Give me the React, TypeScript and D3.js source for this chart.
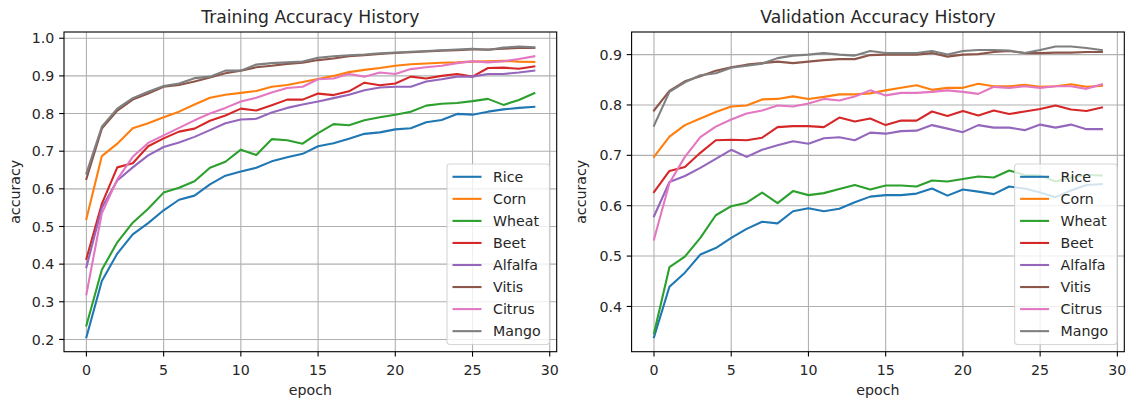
import React from "react";
import * as d3 from "d3";

// Crop classes, in legend order
const crops = ["Rice", "Corn", "Wheat", "Beet", "Alfalfa", "Vitis", "Citrus", "Mango"];
const colors = ["#1f77b4", "#ff7f0e", "#2ca02c", "#d62728", "#9467bd", "#8c564b", "#e377c2", "#7f7f7f"];

// Training accuracy per epoch (0..29)
const trainRice = [0.206, 0.355, 0.428, 0.479, 0.509, 0.543, 0.571, 0.582, 0.612, 0.635, 0.646, 0.656, 0.673, 0.684, 0.693, 0.713, 0.721, 0.733, 0.746, 0.75, 0.758, 0.761, 0.777, 0.783, 0.799, 0.797, 0.805, 0.811, 0.815, 0.818];
const trainCorn = [0.52, 0.687, 0.72, 0.761, 0.774, 0.79, 0.805, 0.824, 0.842, 0.85, 0.855, 0.86, 0.871, 0.876, 0.884, 0.892, 0.9, 0.91, 0.916, 0.921, 0.927, 0.931, 0.933, 0.935, 0.936, 0.938, 0.939, 0.94, 0.938, 0.937];
const trainWheat = [0.237, 0.385, 0.458, 0.51, 0.547, 0.59, 0.603, 0.62, 0.656, 0.672, 0.704, 0.69, 0.732, 0.729, 0.72, 0.748, 0.772, 0.769, 0.782, 0.79, 0.797, 0.805, 0.821, 0.826, 0.828, 0.833, 0.839, 0.823, 0.836, 0.854];
const trainBeet = [0.414, 0.56, 0.657, 0.668, 0.713, 0.734, 0.752, 0.76, 0.781, 0.795, 0.813, 0.808, 0.822, 0.837, 0.837, 0.853, 0.849, 0.859, 0.882, 0.875, 0.88, 0.898, 0.893, 0.9, 0.905, 0.898, 0.921, 0.922, 0.919, 0.925];
const trainAlfalfa = [0.392, 0.55, 0.622, 0.657, 0.689, 0.711, 0.723, 0.738, 0.756, 0.774, 0.784, 0.786, 0.803, 0.815, 0.824, 0.832, 0.841, 0.85, 0.862, 0.869, 0.871, 0.871, 0.885, 0.891, 0.898, 0.898, 0.905, 0.905, 0.909, 0.914];
const trainVitis = [0.626, 0.76, 0.808, 0.837, 0.853, 0.871, 0.876, 0.885, 0.896, 0.907, 0.914, 0.923, 0.927, 0.932, 0.935, 0.942, 0.946, 0.952, 0.955, 0.958, 0.961, 0.963, 0.965, 0.967, 0.968, 0.97, 0.97, 0.972, 0.974, 0.974];
const trainCitrus = [0.32, 0.535, 0.625, 0.685, 0.722, 0.742, 0.762, 0.782, 0.8, 0.815, 0.832, 0.842, 0.856, 0.868, 0.871, 0.891, 0.893, 0.905, 0.898, 0.909, 0.905, 0.918, 0.923, 0.927, 0.934, 0.939, 0.936, 0.939, 0.945, 0.952];
const trainMango = [0.641, 0.765, 0.813, 0.841, 0.858, 0.873, 0.88, 0.894, 0.898, 0.914, 0.914, 0.93, 0.934, 0.936, 0.938, 0.948, 0.952, 0.955, 0.957, 0.96, 0.962, 0.964, 0.966, 0.968, 0.97, 0.972, 0.969, 0.975, 0.978, 0.976];

// Validation accuracy per epoch (0..29)
const valRice = [0.339, 0.439, 0.467, 0.503, 0.516, 0.536, 0.554, 0.568, 0.565, 0.589, 0.595, 0.589, 0.594, 0.607, 0.618, 0.621, 0.621, 0.624, 0.634, 0.62, 0.632, 0.628, 0.623, 0.638, 0.634, 0.626, 0.617, 0.63, 0.641, 0.643];
const valCorn = [0.697, 0.737, 0.76, 0.773, 0.786, 0.797, 0.799, 0.811, 0.812, 0.817, 0.812, 0.816, 0.821, 0.821, 0.823, 0.829, 0.834, 0.839, 0.83, 0.834, 0.834, 0.842, 0.837, 0.837, 0.84, 0.836, 0.837, 0.841, 0.836, 0.838];
const valWheat = [0.347, 0.478, 0.499, 0.536, 0.581, 0.599, 0.606, 0.626, 0.605, 0.629, 0.621, 0.625, 0.633, 0.641, 0.632, 0.64, 0.64, 0.638, 0.65, 0.648, 0.653, 0.658, 0.656, 0.67, 0.661, 0.66, 0.648, 0.656, 0.661, 0.66];
const valBeet = [0.627, 0.669, 0.677, 0.705, 0.73, 0.731, 0.73, 0.735, 0.756, 0.758, 0.758, 0.756, 0.775, 0.767, 0.773, 0.76, 0.769, 0.769, 0.787, 0.778, 0.788, 0.779, 0.789, 0.782, 0.787, 0.792, 0.799, 0.791, 0.788, 0.795];
const valAlfalfa = [0.579, 0.647, 0.659, 0.675, 0.693, 0.711, 0.697, 0.711, 0.72, 0.728, 0.723, 0.734, 0.736, 0.73, 0.745, 0.743, 0.748, 0.749, 0.76, 0.753, 0.746, 0.76, 0.755, 0.755, 0.75, 0.761, 0.755, 0.761, 0.752, 0.752];
const valVitis = [0.789, 0.828, 0.847, 0.857, 0.868, 0.875, 0.88, 0.883, 0.886, 0.883, 0.886, 0.889, 0.891, 0.891, 0.899, 0.9, 0.9, 0.9, 0.903, 0.896, 0.9, 0.901, 0.905, 0.907, 0.903, 0.903, 0.904, 0.904, 0.905, 0.905];
const valCitrus = [0.533, 0.645, 0.697, 0.736, 0.757, 0.771, 0.783, 0.789, 0.799, 0.797, 0.803, 0.812, 0.809, 0.817, 0.829, 0.819, 0.824, 0.824, 0.826, 0.829, 0.826, 0.822, 0.836, 0.834, 0.837, 0.834, 0.837, 0.837, 0.832, 0.841];
const valMango = [0.759, 0.826, 0.845, 0.859, 0.863, 0.874, 0.878, 0.882, 0.893, 0.898, 0.9, 0.903, 0.9, 0.898, 0.907, 0.903, 0.903, 0.903, 0.907, 0.9, 0.907, 0.909, 0.909, 0.908, 0.903, 0.909, 0.916, 0.916, 0.913, 0.909];

const xTicks = [0, 5, 10, 15, 20, 25, 30];
const trainYTicks = [0.2, 0.3, 0.4, 0.5, 0.6, 0.7, 0.8, 0.9, 1.0];
const valYTicks = [0.4, 0.5, 0.6, 0.7, 0.8, 0.9];

const trainSeries = [trainRice, trainCorn, trainWheat, trainBeet, trainAlfalfa, trainVitis, trainCitrus, trainMango];
const valSeries = [valRice, valCorn, valWheat, valBeet, valAlfalfa, valVitis, valCitrus, valMango];

const FONT = "DejaVu Sans";
const TICK_FS = 14.2;
const TITLE_FS = 17.2;
const TEXT = "#262626";

type PanelProps = {
  title: string;
  series: number[][];
  yTicks: number[];
  left: number;
  right: number;
  top: number;
  bottom: number;
  ylabelX: number;
};

function padded(lo: number, hi: number): [number, number] {
  const m = (hi - lo) * 0.05;
  return [lo - m, hi + m];
}

function Panel({ title, series, yTicks, left, right, top, bottom, ylabelX }: PanelProps) {
  const n = series[0].length;
  const x = d3.scaleLinear().domain(padded(0, n - 1)).range([left, right]);
  const all = series.flat();
  const y = d3.scaleLinear().domain(padded(d3.min(all)!, d3.max(all)!)).range([bottom, top]);
  const line = d3
    .line<number>()
    .x((_, i) => x(i))
    .y((d) => y(d));
  const fmt = d3.format(".1f");
  const cx = (left + right) / 2;
  const cy = (top + bottom) / 2;

  // legend, anchored lower right inside the axes
  const pad = 7.2;
  const lgW = 102.5;
  const rowH = 22.05;
  const lgH = 180.5;
  const lgRight = right - pad;
  const lgBottom = bottom - pad;
  const lgLeft = lgRight - lgW;
  const lgTop = lgBottom - lgH;
  const handleX0 = lgLeft + 5.5;
  const handleX1 = handleX0 + 29;
  const textX = handleX1 + 11.5;
  const firstRow = lgTop + 12.8;

  return (
    <g>
      <clipPath id={`clip-${title.replace(/\s/g, "")}`}>
        <rect x={left} y={top} width={right - left} height={bottom - top} />
      </clipPath>
      {/* grid */}
      {xTicks.map((t) => (
        <line key={`gx${t}`} x1={x(t)} x2={x(t)} y1={top} y2={bottom} stroke="#b0b0b0" strokeWidth={1.1} />
      ))}
      {yTicks.map((t) => (
        <line key={`gy${t}`} x1={left} x2={right} y1={y(t)} y2={y(t)} stroke="#b0b0b0" strokeWidth={1.1} />
      ))}
      {/* series */}
      <g clipPath={`url(#clip-${title.replace(/\s/g, "")})`}>
        {series.map((s, i) => (
          <path
            key={crops[i]}
            d={line(s) ?? ""}
            fill="none"
            stroke={colors[i]}
            strokeWidth={2.1}
            strokeLinejoin="round"
            strokeLinecap="square"
          />
        ))}
      </g>
      {/* frame */}
      <rect x={left} y={top} width={right - left} height={bottom - top} fill="none" stroke="#000" strokeWidth={1.1} />
      {/* x ticks */}
      {xTicks.map((t) => (
        <g key={`tx${t}`}>
          <line x1={x(t)} x2={x(t)} y1={bottom} y2={bottom + 4.9} stroke="#000" strokeWidth={1.1} />
          <text x={x(t)} y={bottom + 22.8} textAnchor="middle" fontSize={TICK_FS} fontFamily={FONT} fill={TEXT}>
            {t}
          </text>
        </g>
      ))}
      {/* y ticks */}
      {yTicks.map((t) => (
        <g key={`ty${t}`}>
          <line x1={left - 4.9} x2={left} y1={y(t)} y2={y(t)} stroke="#000" strokeWidth={1.1} />
          <text
            x={left - 9.6}
            y={y(t)}
            dy="0.36em"
            textAnchor="end"
            fontSize={TICK_FS}
            fontFamily={FONT}
            fill={TEXT}
          >
            {fmt(t)}
          </text>
        </g>
      ))}
      {/* labels */}
      <text x={cx} y={394.5} textAnchor="middle" fontSize={TICK_FS} fontFamily={FONT} fill={TEXT}>
        epoch
      </text>
      <text
        transform={`translate(${ylabelX},${cy}) rotate(-90)`}
        textAnchor="middle"
        fontSize={TICK_FS}
        fontFamily={FONT}
        fill={TEXT}
      >
        accuracy
      </text>
      <text x={cx} y={23.2} textAnchor="middle" fontSize={TITLE_FS} fontFamily={FONT} fill={TEXT}>
        {title}
      </text>
      {/* legend */}
      <rect
        x={lgLeft}
        y={lgTop}
        width={lgW}
        height={lgH}
        rx={2.9}
        fill="#fff"
        fillOpacity={0.8}
        stroke="#cccccc"
        strokeOpacity={0.8}
        strokeWidth={1.1}
      />
      {crops.map((c, i) => {
        const ry = firstRow + i * rowH;
        return (
          <g key={`lg${c}`}>
            <line x1={handleX0} x2={handleX1} y1={ry} y2={ry} stroke={colors[i]} strokeWidth={2.1} />
            <text x={textX} y={ry} dy="0.36em" fontSize={TICK_FS} fontFamily={FONT} fill={TEXT}>
              {c}
            </text>
          </g>
        );
      })}
    </g>
  );
}

export default function App() {
  return (
    <svg
      width={1128}
      height={401}
      style={{ position: "absolute", left: 0, top: 0, background: "#fff" }}
    >
      <rect width={1128} height={401} fill="#fff" />
      <Panel
        title="Training Accuracy History"
        series={trainSeries}
        yTicks={trainYTicks}
        left={64}
        right={556.7}
        top={32}
        bottom={351.7}
        ylabelX={20}
      />
      <Panel
        title="Validation Accuracy History"
        series={valSeries}
        yTicks={valYTicks}
        left={631.6}
        right={1124.3}
        top={32}
        bottom={351.7}
        ylabelX={586}
      />
    </svg>
  );
}
